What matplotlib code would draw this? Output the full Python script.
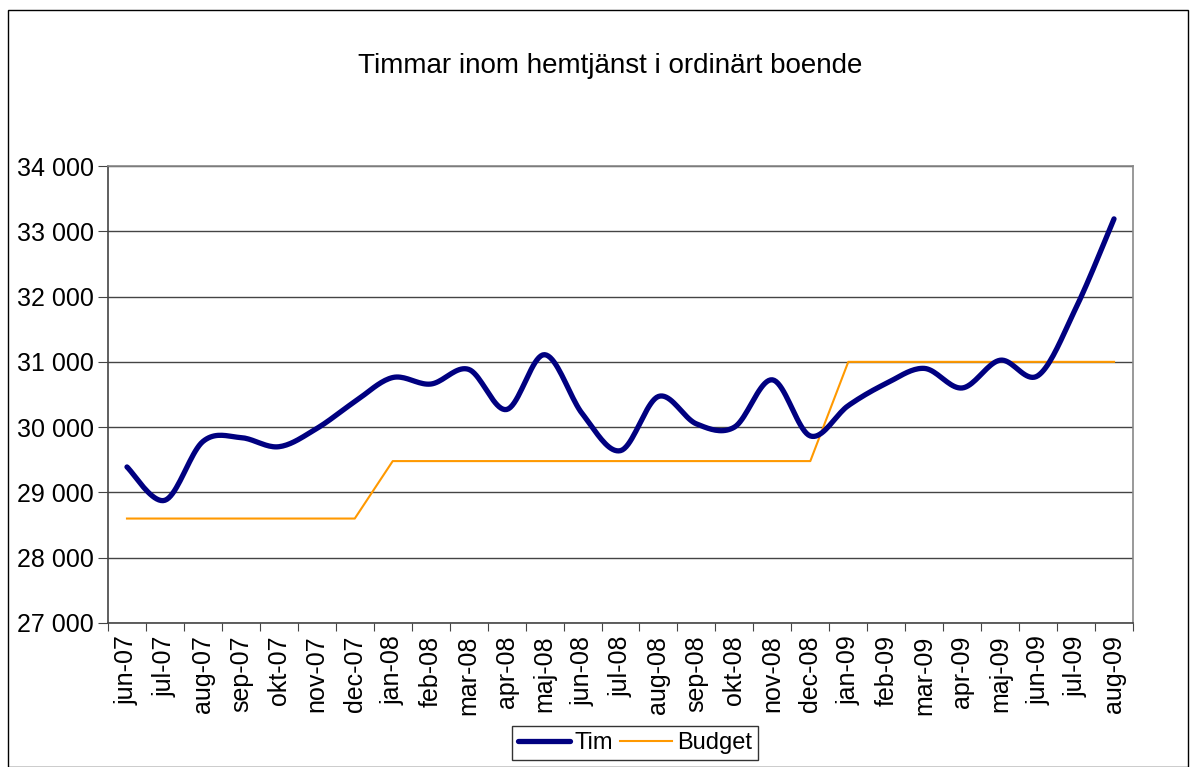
import numpy as np
import matplotlib
matplotlib.use('Agg')
import matplotlib.pyplot as plt
from matplotlib.ticker import FuncFormatter, FixedLocator
from matplotlib.patches import Rectangle

months = ['jun-07', 'jul-07', 'aug-07', 'sep-07', 'okt-07', 'nov-07', 'dec-07',
          'jan-08', 'feb-08', 'mar-08', 'apr-08', 'maj-08', 'jun-08', 'jul-08',
          'aug-08', 'sep-08', 'okt-08', 'nov-08', 'dec-08', 'jan-09', 'feb-09',
          'mar-09', 'apr-09', 'maj-09', 'jun-09', 'jul-09', 'aug-09']
tim = [29390, 28880, 29780, 29840, 29700, 29980, 30390,
       30760, 30660, 30885, 30270, 31110, 30200, 29640,
       30470, 30050, 30000, 30725, 29865, 30330, 30670,
       30900, 30600, 31025, 30790, 31830, 33190]
budget = [28600, 28600, 28600, 28600, 28600, 28600, 28600,
          29480, 29480, 29480, 29480, 29480, 29480, 29480,
          29480, 29480, 29480, 29480, 29480, 31000, 31000,
          31000, 31000, 31000, 31000, 31000, 31000]


def smooth(x, y, n=20):
    # bezier smoothing similar to excel's "smoothed line"
    x = np.asarray(x, float)
    y = np.asarray(y, float)
    px = np.concatenate([[x[0]], x, [x[-1]]])
    py = np.concatenate([[y[0]], y, [y[-1]]])
    xs, ys = [], []
    t = np.linspace(0, 1, n, endpoint=False)
    for i in range(1, len(px) - 2):
        p0 = np.array([px[i], py[i]])
        p3 = np.array([px[i + 1], py[i + 1]])
        c1 = p0 + (np.array([px[i + 1], py[i + 1]]) - np.array([px[i - 1], py[i - 1]])) / 6
        c2 = p3 - (np.array([px[i + 2], py[i + 2]]) - p0) / 6
        b = ((1 - t) ** 3)[:, None] * p0 + (3 * (1 - t) ** 2 * t)[:, None] * c1 \
            + (3 * (1 - t) * t ** 2)[:, None] * c2 + (t ** 3)[:, None] * p3
        xs.extend(b[:, 0])
        ys.extend(b[:, 1])
    xs.append(x[-1])
    ys.append(y[-1])
    return np.array(xs), np.array(ys)


plt.rcParams['font.family'] = ['Liberation Sans', 'DejaVu Sans']

fig = plt.figure(figsize=(11.9, 7.67), dpi=100)
ax = fig.add_axes([108 / 1190, 1 - 623 / 767, (1133 - 108) / 1190, (623 - 166) / 767])

x = np.arange(len(months))
sx, sy = smooth(x, tim)
ax.plot(sx, sy, color='#000080', lw=3.8, solid_capstyle='round', label='Tim', zorder=3)
ax.plot(x, budget, color='#FF9900', lw=1.5, label='Budget', zorder=2)

ax.set_xlim(-0.5, len(months) - 0.5)
ax.set_ylim(27000, 34000)
ax.set_yticks(np.arange(27000, 34001, 1000))
ax.yaxis.set_major_formatter(FuncFormatter(lambda v, p: f'{int(v):,}'.replace(',', ' ')))
ax.grid(axis='y', color='#444444', lw=1)
ax.set_axisbelow(True)

ax.xaxis.set_major_locator(FixedLocator(np.arange(-0.5, len(months), 1)))
ax.xaxis.set_major_formatter(FuncFormatter(lambda v, p: ''))
ax.xaxis.set_minor_locator(FixedLocator(x))
ax.set_xticklabels(months, minor=True, rotation=90, fontsize=18)
ax.tick_params(axis='x', which='minor', length=0, pad=9)
ax.tick_params(axis='x', which='major', length=6, color='#444444', direction='out')
ax.tick_params(axis='y', length=7, color='#444444', labelsize=18, pad=3)

for s in ['left', 'bottom']:
    ax.spines[s].set_color('#444444')
    ax.spines[s].set_linewidth(1.2)
for s in ['top', 'right']:
    ax.spines[s].set_color('#888888')
    ax.spines[s].set_linewidth(1.2)

fig.text(610 / 1190, 1 - 66 / 767, 'Timmar inom hemtjänst i ordinärt boende',
         ha='center', va='center', fontsize=20)

leg = fig.legend(loc='upper left', bbox_to_anchor=(512 / 1190, 1 - 726 / 767),
                 ncol=2, fontsize=17, frameon=True, fancybox=False,
                 edgecolor='black', handlelength=2.2, columnspacing=0.3,
                 handletextpad=0.2, borderpad=0.25, borderaxespad=0)
leg.get_frame().set_linewidth(1)

fig.patches.append(Rectangle((8 / 1190, 0), 1 - 10 / 1190, 1 - 10 / 767,
                             transform=fig.transFigure, fill=False,
                             edgecolor='black', lw=1))

fig.savefig('out.png', dpi=100)
